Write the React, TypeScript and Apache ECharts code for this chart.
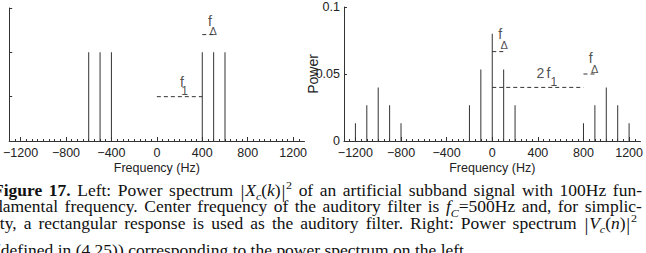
import React, { useEffect, useRef } from "react";
import * as echarts from "echarts";

// ---------- data ----------
const xMajorTicks = [-1200, -800, -400, 0, 400, 800, 1200];
const xMinorStep = 50;
const xMin = -1300;
const xMax = 1300;

const leftFreq = [-600, -500, -400, 400, 500, 600];
const leftPower = [2, 2, 2, 2, 2, 2];

const rightFreq = [-1200, -1100, -1000, -900, -800, -200, -100, 0, 100, 200, 800, 900, 1000, 1100, 1200];
const rightPower = [0.0133, 0.0267, 0.04, 0.0267, 0.0133, 0.0267, 0.0533, 0.08, 0.0533, 0.0267, 0.0133, 0.0267, 0.04, 0.0267, 0.0133];

// dashed annotation lines: [xStart, xEnd, y]
const leftDashes = [
  [0, 400, 1],
  [400, 505, 2.4],
];
const rightDashes = [
  [0, 100, 0.0667],
  [0, 800, 0.04],
  [800, 900, 0.05],
];

// annotation glyphs: [x, y, text, fontSize]
const leftNotes: [number, number, string, number][] = [
  [467, 2.71, "f", 14],
  [497, 2.48, "\u0394", 11],
  [220, 1.33, "f", 14],
  [245, 1.12, "1", 12],
];
const rightNotes: [number, number, string, number][] = [
  [70, 0.0802, "f", 14],
  [105, 0.0713, "\u0394", 11],
  [423, 0.0507, "2", 14],
  [493, 0.0507, "f", 14],
  [541, 0.0444, "1", 12],
  [864, 0.0619, "f", 14],
  [899, 0.0537, "\u0394", 11],
];

// ---------- caption ----------
type Run = { t: string; b?: boolean; i?: boolean; sub?: boolean; sup?: boolean; bar?: boolean };
const w = (t: string): Run[] => [{ t }];
const words = (s: string): Run[][] => s.split(" ").map(w);

const mathX: Run[] = [
  { t: "|", bar: true },
  { t: "X", i: true },
  { t: "c", i: true, sub: true },
  { t: "(" },
  { t: "k", i: true },
  { t: ")" },
  { t: "|", bar: true },
  { t: "2", sup: true },
];
const mathV: Run[] = [
  { t: "|", bar: true },
  { t: "V", i: true },
  { t: "c", i: true, sub: true },
  { t: "(" },
  { t: "n", i: true },
  { t: ")" },
  { t: "|", bar: true },
  { t: "2", sup: true },
];
const fc: Run[] = [{ t: "f", i: true }, { t: "C", i: true, sub: true }, { t: "=500Hz" }];

const captionLine1: Run[][] = [
  [{ t: "Figure", b: true }],
  [{ t: "17.", b: true }],
  ...words("Left: Power spectrum"),
  mathX,
  ...words("of an artificial subband signal with 100Hz fun-"),
];
const captionLine2: Run[][] = [
  ...words("damental frequency. Center frequency of the auditory filter is"),
  fc,
  ...words("and, for simplic-"),
];
const captionLine3: Run[][] = [
  ...words("ity, a rectangular response is used as the auditory filter. Right: Power spectrum"),
  mathV,
];
const captionLine4: Run[][] = words("(defined in (4.25)) corresponding to the power spectrum on the left.");

const CAP_FAMILY = "'Liberation Serif', 'Times New Roman', serif";
const CAP_SIZE = 17.5;
const CAP_SCALE_Y = 0.92;
const AX_FAMILY = "'Liberation Sans Narrow', 'Liberation Sans', Arial, sans-serif";

function buildCaption() {
  const ctx = document.createElement("canvas").getContext("2d")!;
  const runSize = (r: Run) => (r.sub || r.sup ? 12 : r.bar ? 19.5 : CAP_SIZE);
  const runFont = (r: Run) =>
    `${r.i ? "italic " : ""}${r.b ? "bold " : ""}${runSize(r)}px ${CAP_FAMILY}`;
  const measure = (r: Run) => {
    ctx.font = runFont(r);
    return ctx.measureText(r.t).width;
  };
  ctx.font = `${CAP_SIZE}px ${CAP_FAMILY}`;
  const space = ctx.measureText(" ").width;
  const lines = [
    { words: captionLine1, left: -7, right: 642, base: 196, justify: true },
    { words: captionLine2, left: -6, right: 642, base: 212.5, justify: true },
    { words: captionLine3, left: -5, right: 637, base: 229, justify: true },
    { words: captionLine4, left: -5, right: 642, base: 256.5, justify: false },
  ];
  const els: any[] = [];
  lines.forEach((ln) => {
    const widths = ln.words.map((wd) => wd.reduce((s, r) => s + measure(r) + (r.bar ? 1.5 : 0), 0));
    const total = widths.reduce((a, b) => a + b, 0);
    const gap = ln.justify ? (ln.right - ln.left - total) / (ln.words.length - 1) : space;
    let x = ln.left;
    ln.words.forEach((wd, wi) => {
      let rx = x;
      wd.forEach((r) => {
        const size = runSize(r);
        const shift = r.sub ? 4 : r.sup ? -7.5 : r.bar ? 1.5 : 0;
        els.push({
          type: "text",
          x: rx + (r.bar ? 0.75 : 0),
          y: ln.base + shift - 0.3375 * size * CAP_SCALE_Y,
          scaleY: CAP_SCALE_Y,
          silent: true,
          style: {
            text: r.t,
            fontSize: size,
            fontFamily: CAP_FAMILY,
            fontWeight: r.b ? "bold" : "normal",
            fontStyle: r.i ? "italic" : "normal",
            fill: "#111",
            align: "left",
            verticalAlign: "middle",
          },
        });
        rx += measure(r) + (r.bar ? 1.5 : 0);
      });
      x += widths[wi] + gap;
    });
  });
  return els;
}

const fmtX = (v: number) => (v < 0 ? "\u2212" + Math.abs(v) : String(v));

export default function App() {
  const ref = useRef<HTMLDivElement>(null);
  useEffect(() => {
    const el = ref.current!;
    const chart = echarts.init(el, undefined, { renderer: "svg", width: 646, height: 253 });

    const minorVals: number[] = [];
    for (let v = xMin + xMinorStep; v < xMax; v += xMinorStep) {
      if (!xMajorTicks.includes(v)) minorVals.push(v);
    }

    const axisColor = "#333";
    const labelStyle = { fontFamily: AX_FAMILY, fontSize: 12.5, color: "#222" };

    const mainX = (gridIndex: number) => ({
      type: "value",
      gridIndex,
      min: xMin,
      max: xMax,
      position: "bottom",
      axisLine: { show: true, onZero: false, lineStyle: { color: axisColor, width: 1 } },
      axisTick: { show: true, inside: true, length: 4, customValues: xMajorTicks, lineStyle: { color: axisColor } },
      axisLabel: { show: true, customValues: xMajorTicks, formatter: fmtX, margin: 5, ...labelStyle },
      splitLine: { show: false },
      name: "Frequency (Hz)",
      nameLocation: "middle",
      nameGap: 20,
      nameMoveOverlap: false,
      nameTextStyle: { fontFamily: AX_FAMILY, fontSize: 12.5, color: "#222" },
    });
    const minorX = (gridIndex: number) => ({
      type: "value",
      gridIndex,
      min: xMin,
      max: xMax,
      position: "bottom",
      axisLine: { show: false, onZero: false },
      axisTick: { show: true, inside: true, length: 2, customValues: minorVals, lineStyle: { color: axisColor } },
      axisLabel: { show: false },
      splitLine: { show: false },
    });

    const dashSeries = (dashes: number[][], xAxisIndex: number, yAxisIndex: number) =>
      dashes.map((d) => ({
        type: "line",
        xAxisIndex,
        yAxisIndex,
        data: [
          [d[0], d[2]],
          [d[1], d[2]],
        ],
        symbol: "none",
        silent: true,
        lineStyle: { color: "#333", width: 1, type: [4, 3] },
      }));

    const noteSeries = (notes: [number, number, string, number][], xAxisIndex: number, yAxisIndex: number) => ({
      type: "scatter",
      xAxisIndex,
      yAxisIndex,
      symbolSize: 1,
      silent: true,
      itemStyle: { color: "rgba(0,0,0,0)" },
      data: notes.map((n) => ({
        value: [n[0], n[1]],
        name: n[2],
        label: { fontSize: n[3] },
      })),
      label: {
        show: true,
        position: "inside",
        formatter: "{b}",
        fontFamily: AX_FAMILY,
        color: "#222",
      },
    });

    const option: any = {
      animation: false,
      backgroundColor: "#fff",
      grid: [
        { left: 1, top: 8, width: 303.5, height: 133, containLabel: false },
        { left: 344, top: 7, width: 298, height: 134, containLabel: false },
      ],
      xAxis: [mainX(0), minorX(0), mainX(1), minorX(1)],
      yAxis: [
        {
          type: "value",
          gridIndex: 0,
          min: 0,
          max: 3,
          interval: 1,
          axisLine: { show: true, onZero: false, lineStyle: { color: axisColor } },
          axisTick: { show: true, inside: true, length: 3, lineStyle: { color: axisColor } },
          axisLabel: { show: false },
          splitLine: { show: false },
        },
        {
          type: "value",
          gridIndex: 1,
          min: 0,
          max: 0.1,
          interval: 0.05,
          axisLine: { show: true, onZero: false, lineStyle: { color: axisColor } },
          axisTick: { show: true, inside: true, length: 3, lineStyle: { color: axisColor } },
          axisLabel: { show: true, margin: 4, ...labelStyle },
          splitLine: { show: false },
          name: "Power",
          nameLocation: "middle",
          nameGap: 24,
          nameMoveOverlap: false,
          nameTextStyle: { fontFamily: "'Liberation Sans', Arial, sans-serif", fontSize: 14, color: "#222" },
        },
      ],
      series: [
        {
          type: "bar",
          xAxisIndex: 0,
          yAxisIndex: 0,
          barWidth: 1,
          data: leftFreq.map((f, i) => [f, leftPower[i]]),
          itemStyle: { color: "#333" },
          silent: true,
        },
        {
          type: "bar",
          xAxisIndex: 2,
          yAxisIndex: 1,
          barWidth: 1,
          data: rightFreq.map((f, i) => [f, rightPower[i]]),
          itemStyle: { color: "#333" },
          silent: true,
        },
        ...dashSeries(leftDashes, 0, 0),
        ...dashSeries(rightDashes, 2, 1),
        noteSeries(leftNotes, 0, 0),
        noteSeries(rightNotes, 2, 1),
      ],
      graphic: { elements: buildCaption() },
    };

    chart.setOption(option);
    return () => chart.dispose();
  }, []);

  return (
    <div
      ref={ref}
      style={{ position: "fixed", left: 0, top: 0, width: 646, height: 253, background: "#fff" }}
    />
  );
}
